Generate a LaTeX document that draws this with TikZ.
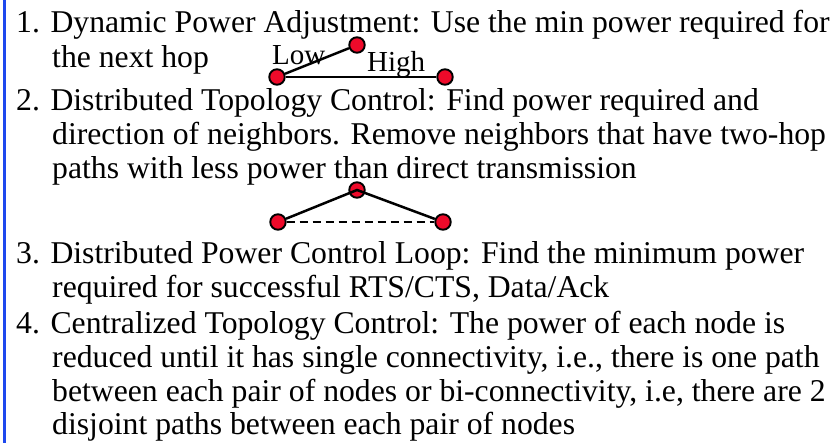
\documentclass[tikz,border=0pt]{standalone}
\usepackage{fontspec}
\setmainfont{Liberation Serif}
\usepackage{tikz}

\definecolor{barblue}{RGB}{30,72,238}
\definecolor{nodered}{RGB}{238,10,42}

\tikzset{
  line/.style={anchor=base west, inner sep=0pt, font=\rmfamily\fontsize{31.7}{34}\selectfont},
  tag/.style={anchor=base west, inner sep=0pt, font=\rmfamily\fontsize{29}{30}\selectfont},
  mote/.style={circle, draw=black, line width=1.9pt, fill=nodered, minimum size=15.5pt, inner sep=0pt},
  link/.style={black, line width=2.5pt},
}

\begin{document}
\begin{tikzpicture}[x=1pt,y=-1pt]
  \useasboundingbox (0,0) rectangle (833,443);
  \fill[white] (0,0) rectangle (833,443);
  \draw[barblue, line width=3pt] (4,0)--(4,443);

  % 1. power adjustment
  \node[line] (p1a) at (16,33) {1. Dynamic Power Adjustment: Use the min power required for};
  \node[line] (p1b) at (52,68) {the next hop};
  \node[tag] (lowtxt) at (272,65) {Low};
  \node[tag] (hightxt) at (367,72) {High};
  \node[mote] (src) at (277,77) {};
  \node[mote] (nearby) at (357,45) {};
  \node[mote] (far) at (445,77) {};
  \draw[link] (src)--(nearby);
  \draw[link] (src)--(far);

  % 2. topology control
  \node[line] (p2a) at (16,111) {2. Distributed Topology Control: Find power required and};
  \node[line] (p2b) at (52,145) {direction of neighbors. Remove neighbors that have two-hop};
  \node[line] (p2c) at (52,179) {paths with less power than direct transmission};
  \node[mote] (left) at (278,222) {};
  \node[mote] (relay) at (357,190) {};
  \node[mote] (right) at (443,222) {};
  \draw[link] (left)--(relay.center)--(right);
  \draw[link, dash pattern=on 8pt off 5pt] (left)--(right);

  % 3. power control loop
  \node[line] (p3a) at (16,264) {3. Distributed Power Control Loop: Find the minimum power};
  \node[line] (p3b) at (52,298) {required for successful RTS/CTS, Data/Ack};

  % 4. centralized
  \node[line] (p4a) at (16,334) {4. Centralized Topology Control: The power of each node is};
  \node[line] (p4b) at (52,368) {reduced until it has single connectivity, i.e., there is one path};
  \node[line] (p4c) at (52,402) {between each pair of nodes or bi-connectivity, i.e, there are 2};
  \node[line] (p4d) at (52,435) {disjoint paths between each pair of nodes};
\end{tikzpicture}
\end{document}
